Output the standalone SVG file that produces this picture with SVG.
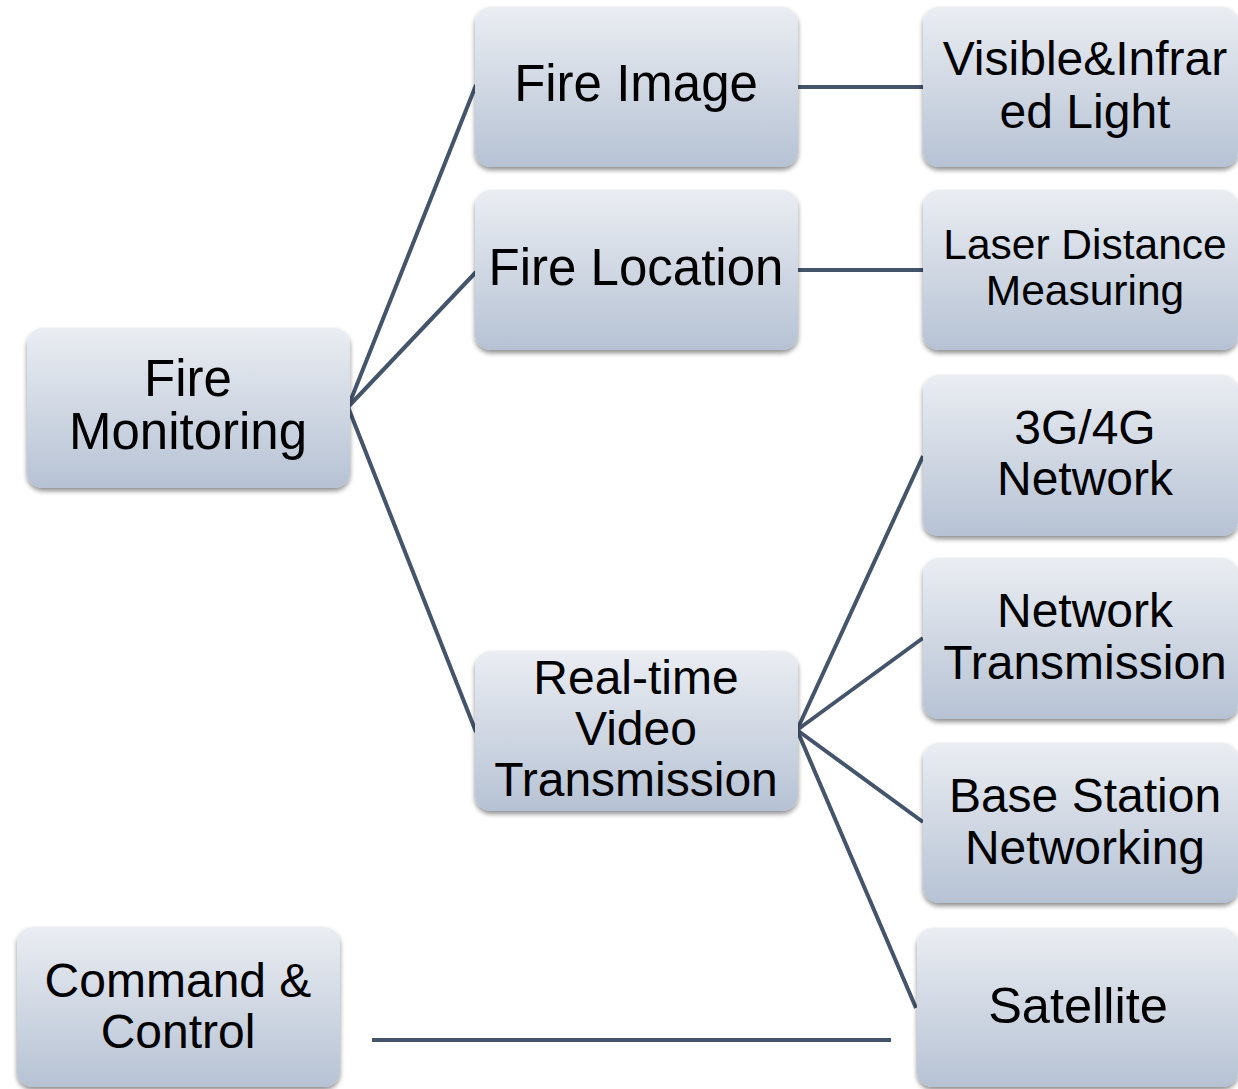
<svg xmlns="http://www.w3.org/2000/svg" width="1238" height="1089" viewBox="0 0 1238 1089">
<style>
.box{fill:url(#g);filter:url(#sh)}
.t{font-family:"Liberation Sans",Arial,sans-serif;font-size:48px;fill:#000;text-anchor:middle}
.L{font-size:51px}
.s{font-size:42.5px}
.c{stroke:#44546a;stroke-width:4;fill:none}
</style>
<defs>
<linearGradient id="g" x1="0" y1="0" x2="0" y2="1">
<stop offset="0" stop-color="#eaedf2"/>
<stop offset="1" stop-color="#b6c2d4"/>
</linearGradient>
<filter id="sh" x="-10%" y="-10%" width="120%" height="130%">
<feGaussianBlur in="SourceAlpha" stdDeviation="2.5"/>
<feOffset dx="0" dy="3" result="b"/>
<feComponentTransfer><feFuncA type="linear" slope="0.45"/></feComponentTransfer>
<feMerge><feMergeNode/><feMergeNode in="SourceGraphic"/></feMerge>
</filter>
</defs>
<rect width="1238" height="1089" fill="#fff"/>
<g id="connectors">
<line class="c" x1="348" y1="407" x2="476" y2="85"/>
<line class="c" x1="348" y1="407" x2="476" y2="272"/>
<line class="c" x1="348" y1="407" x2="476" y2="732"/>
<line class="c" x1="797" y1="87" x2="923" y2="87"/>
<line class="c" x1="797" y1="270" x2="923" y2="270"/>
<line class="c" x1="797" y1="730" x2="923" y2="456"/>
<line class="c" x1="797" y1="730" x2="923" y2="638"/>
<line class="c" x1="797" y1="730" x2="923" y2="822"/>
<line class="c" x1="797" y1="730" x2="916" y2="1008"/>
<line class="c" x1="372" y1="1040" x2="891" y2="1040"/>
</g>
<g id="fire-monitoring"><rect class="box" x="27" y="328" width="323" height="160" rx="16"/><text class="t L" x="188" y="396">Fire</text><text class="t L" x="188" y="449">Monitoring</text></g>
<g id="fire-image"><rect class="box" x="475" y="7" width="323" height="160" rx="16"/><text class="t L" x="636" y="101">Fire Image</text></g>
<g id="fire-location"><rect class="box" x="475" y="190" width="323" height="160" rx="16"/><text class="t L" x="636" y="285">Fire Location</text></g>
<g id="real-time-video"><rect class="box" x="475" y="651" width="323" height="160" rx="16"/><text class="t" x="636" y="694">Real-time</text><text class="t" x="636" y="745">Video</text><text class="t" x="636" y="796">Transmission</text></g>
<g id="visible-infrared"><rect class="box" x="923" y="7" width="315" height="160" rx="16"/><text class="t" x="1085" y="75">Visible&amp;Infrar</text><text class="t" x="1085" y="128">ed Light</text></g>
<g id="laser"><rect class="box" x="923" y="190" width="315" height="160" rx="16"/><text class="t s" x="1085" y="259">Laser Distance</text><text class="t s" x="1085" y="305">Measuring</text></g>
<g id="net-3g4g"><rect class="box" x="923" y="375" width="315" height="161" rx="16"/><text class="t" x="1085" y="444">3G/4G</text><text class="t" x="1085" y="495">Network</text></g>
<g id="network-transmission"><rect class="box" x="923" y="558" width="315" height="161" rx="16"/><text class="t" x="1085" y="627">Network</text><text class="t" x="1085" y="679">Transmission</text></g>
<g id="base-station"><rect class="box" x="923" y="743" width="315" height="160" rx="16"/><text class="t" x="1085" y="812">Base Station</text><text class="t" x="1085" y="864">Networking</text></g>
<g id="satellite"><rect class="box" x="917" y="928" width="321" height="159" rx="16"/><text class="t" style="font-size:50.5px" x="1078" y="1023">Satellite</text></g>
<g id="command-control"><rect class="box" x="17" y="927" width="323" height="160" rx="16"/><text class="t" x="178" y="997">Command &amp;</text><text class="t" x="178" y="1048">Control</text></g>
</svg>
